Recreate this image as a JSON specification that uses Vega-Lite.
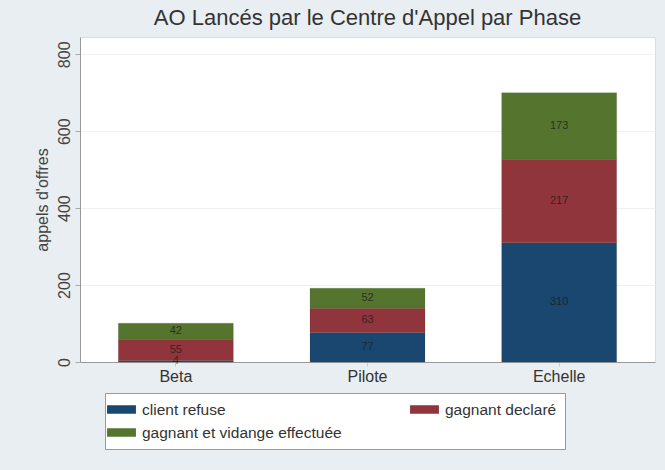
{
  "$schema": "https://vega.github.io/schema/vega-lite/v6.json",
  "autosize": "none",
  "width": 575,
  "height": 325,
  "padding": {"left": 80, "top": 37, "right": 10, "bottom": 108},
  "background": "#e9eef2",
  "config": {
    "font": "Liberation Sans",
    "view": {"fill": "white", "stroke": "#d8dde2"}
  },
  "title": {
    "text": "AO Lancés par le Centre d'Appel par Phase",
    "fontSize": 22,
    "fontWeight": "normal",
    "color": "#333333",
    "anchor": "middle",
    "offset": 7
  },
  "data": {
    "values": [
      {"phase": "Beta", "statut": "client refuse", "ordre": 1, "n": 4},
      {"phase": "Beta", "statut": "gagnant declaré", "ordre": 2, "n": 55},
      {"phase": "Beta", "statut": "gagnant et vidange effectuée", "ordre": 3, "n": 42},
      {"phase": "Pilote", "statut": "client refuse", "ordre": 1, "n": 77},
      {"phase": "Pilote", "statut": "gagnant declaré", "ordre": 2, "n": 63},
      {"phase": "Pilote", "statut": "gagnant et vidange effectuée", "ordre": 3, "n": 52},
      {"phase": "Echelle", "statut": "client refuse", "ordre": 1, "n": 310},
      {"phase": "Echelle", "statut": "gagnant declaré", "ordre": 2, "n": 217},
      {"phase": "Echelle", "statut": "gagnant et vidange effectuée", "ordre": 3, "n": 173}
    ]
  },
  "encoding": {
    "x": {
      "field": "phase",
      "type": "nominal",
      "sort": ["Beta", "Pilote", "Echelle"],
      "scale": {"paddingInner": 0.4, "paddingOuter": 0.2},
      "axis": {
        "title": null,
        "labelAngle": 0,
        "labelFontSize": 16,
        "labelColor": "#333333",
        "domainColor": "#999999",
        "tickColor": "#cccccc",
        "tickSize": 4,
        "labelPadding": 2
      }
    },
    "y": {
      "field": "n",
      "type": "quantitative",
      "aggregate": "sum",
      "stack": "zero",
      "scale": {"domain": [0, 845], "nice": false},
      "axis": {
        "title": "appels d'offres",
        "titleFontSize": 16,
        "titleFontWeight": "normal",
        "titleColor": "#444444",
        "titlePadding": 6,
        "values": [0, 200, 400, 600, 800],
        "labelAngle": -90,
        "labelAlign": "center",
        "labelBaseline": "bottom",
        "labelFontSize": 16,
        "labelColor": "#444444",
        "labelPadding": 3,
        "domainColor": "#999999",
        "tickColor": "#aaaaaa",
        "tickSize": 5,
        "grid": true,
        "gridColor": "#eef1f3"
      }
    },
    "order": {"field": "ordre", "type": "quantitative"}
  },
  "layer": [
    {
      "mark": {"type": "bar", "stroke": "#333333", "strokeOpacity": 0.25, "strokeWidth": 0.5},
      "encoding": {
        "color": {
          "field": "statut",
          "type": "nominal",
          "scale": {
            "domain": ["client refuse", "gagnant et vidange effectuée", "gagnant declaré"],
            "range": ["#1a476f", "#55752f", "#90353b"]
          },
          "legend": {
            "title": null,
            "orient": "none",
            "legendX": 25,
            "legendY": 356,
            "columns": 2,
            "columnPadding": 68,
            "rowPadding": 6,
            "symbolType": "M-1.7,-0.5H1.7V0.5H-1.7Z",
            "symbolSize": 289,
            "symbolStrokeWidth": 0,
            "symbolOpacity": 1,
            "labelFontSize": 15.5,
            "labelColor": "#333333",
            "labelOffset": 12,
            "labelLimit": 300,
            "padding": 8,
            "fillColor": "white",
            "strokeColor": "#999999"
          }
        }
      }
    },
    {
      "mark": {"type": "text", "fontSize": 11, "color": "#1a1a1a", "opacity": 0.75},
      "encoding": {
        "y": {
          "field": "n",
          "type": "quantitative",
          "aggregate": "sum",
          "stack": "zero",
          "bandPosition": 0.5
        },
        "text": {"field": "n", "type": "quantitative", "aggregate": "sum"},
        "detail": {"field": "statut"}
      }
    }
  ]
}
